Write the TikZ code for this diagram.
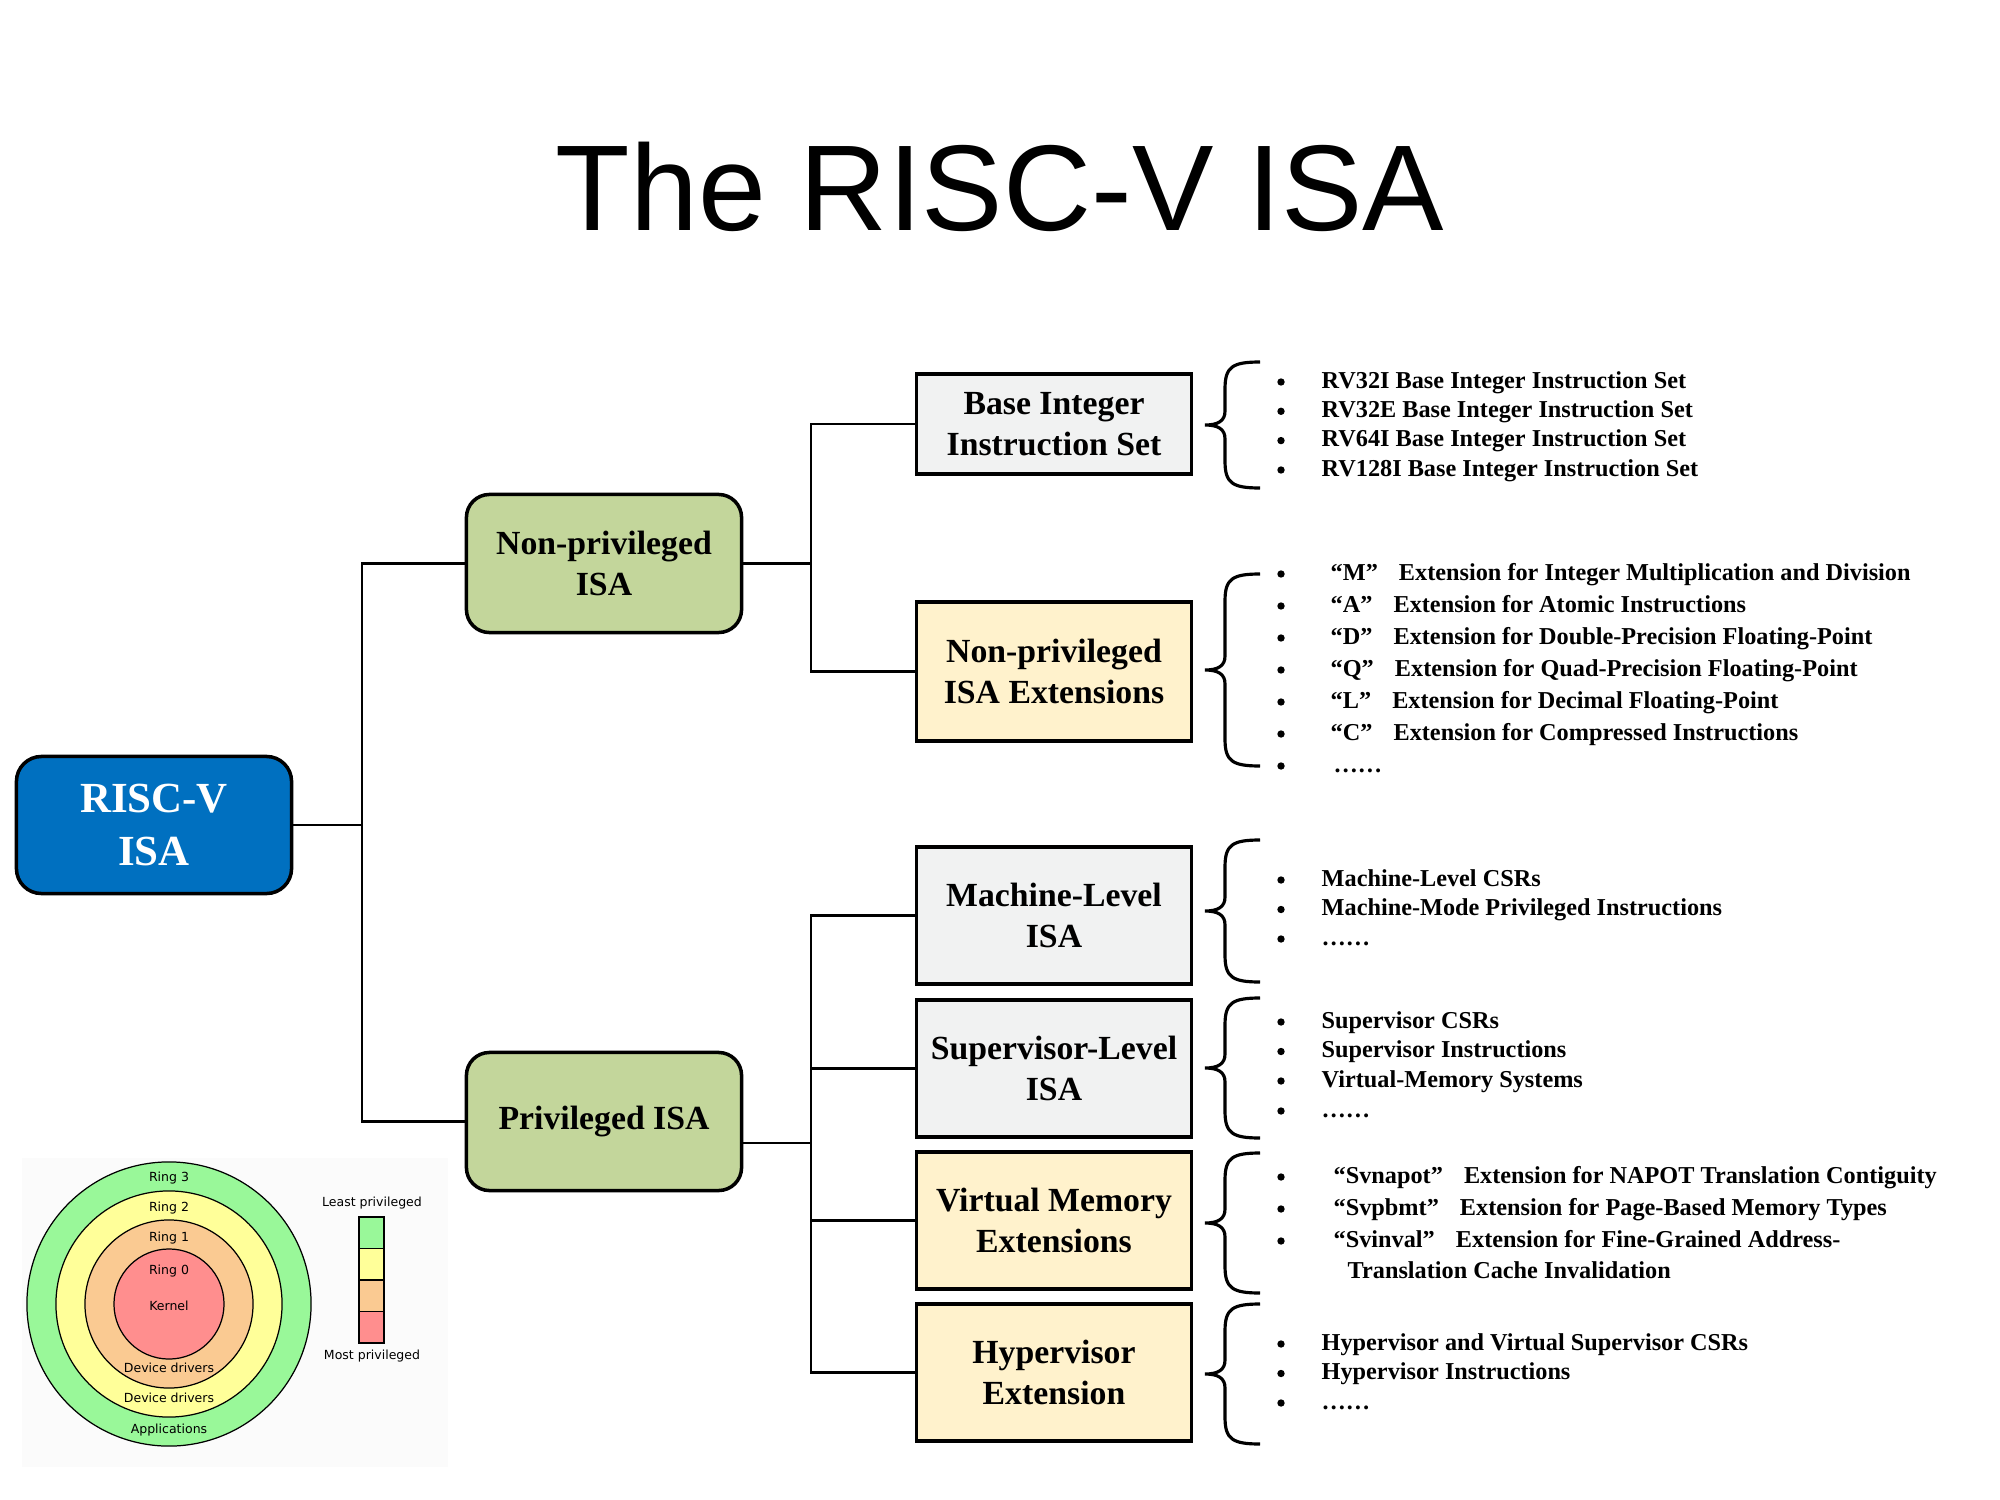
\documentclass[tikz,border=0pt]{standalone}
\usepackage{fontspec}
\setmainfont{Liberation Serif}
\newfontfamily\titlefont{Liberation Sans}
\newfontfamily\ringfont{DejaVu Sans}
\usetikzlibrary{calc}

\definecolor{riscblue}{HTML}{0070C0}
\definecolor{isagreen}{HTML}{C3D69B}
\definecolor{basegray}{HTML}{F1F2F2}
\definecolor{extyellow}{HTML}{FFF2CC}
\definecolor{ringgreen}{HTML}{99F899}
\definecolor{ringyellow}{HTML}{FFFF99}
\definecolor{ringorange}{HTML}{FACA92}
\definecolor{ringred}{HTML}{FF8E8E}
\definecolor{panelgray}{HTML}{FBFBFB}

\tikzset{
  rootbox/.style={draw=black, line width=1pt, rounded corners=0.25cm, fill=riscblue,
    text=white, align=center, minimum width=2.75cm, minimum height=1.37cm,
    font=\bfseries\fontsize{12.2}{15.1}\selectfont},
  groupbox/.style={draw=black, line width=1pt, rounded corners=0.23cm, fill=isagreen,
    align=center, minimum width=2.75cm, minimum height=1.38cm,
    font=\bfseries\fontsize{9.6}{11.6}\selectfont},
  partbox/.style={draw=black, line width=1pt, align=center, minimum width=2.75cm,
    minimum height=1.37cm, font=\bfseries\fontsize{9.6}{11.6}\selectfont},
  link/.style={draw=black, line width=0.8pt},
  bracestyle/.style={draw=black, line width=0.9pt},
  itemtext/.style={anchor=base west, inner sep=0pt, font=\bfseries\fontsize{6.9}{8}\selectfont},
  ringline/.style={draw=black, line width=0.35pt},
  ringlabel/.style={anchor=base, inner sep=0pt, font=\ringfont\fontsize{3.56}{4}\selectfont},
}

% one list line: #1 node name, #2 bullet height, #3 text start, #4 text
\newcommand{\isaitem}[4]{%
  \fill (1281,#2) circle (1.05pt);
  \node[itemtext] (#1) at (#3,#2+6) {#4};
}
% left curly brace between heights #1 (top) and #2 (bottom)
\newcommand{\isabrace}[2]{%
  \pgfmathsetmacro\bmid{(#1+#2)/2}
  \draw[bracestyle] (1260,#1) .. controls (1232,#1) and (1225,#1+5) .. (1225,#1+27)
    -- (1225,\bmid-14) .. controls (1225,\bmid-4) and (1218,\bmid) .. (1205,\bmid)
    .. controls (1218,\bmid) and (1225,\bmid+4) .. (1225,\bmid+14)
    -- (1225,#2-27) .. controls (1225,#2-5) and (1232,#2) .. (1260,#2);
}
\newcommand{\qsp}{\hspace{6pt}}

\begin{document}
\begin{tikzpicture}[x=0.01cm, y=-0.01cm]
\useasboundingbox (0,0) rectangle (2000,1500);

% heading
\node[anchor=base, inner sep=0pt, font=\titlefont\fontsize{34.7}{40}\selectfont] (title) at (1000,231) {The RISC-V ISA};

% tree boxes
\node[rootbox] (risc) at (154,825) {RISC-V\\ISA};
\node[groupbox] (np) at (604,563.5) {Non-privileged\\ISA};
\node[groupbox] (pv) at (604,1121.5) {Privileged ISA};

\node[partbox, fill=basegray, minimum height=1.0cm] (bi) at (1054,424) {Base Integer\\Instruction Set};
\node[partbox, fill=extyellow, minimum height=1.39cm] (ne) at (1054,671.5) {Non-privileged\\ISA Extensions};
\node[partbox, fill=basegray] (ml) at (1054,915.5) {Machine-Level\\ISA};
\node[partbox, fill=basegray] (sl) at (1054,1068.5) {Supervisor-Level\\ISA};
\node[partbox, fill=extyellow] (vm) at (1054,1220.5) {Virtual Memory\\Extensions};
\node[partbox, fill=extyellow] (hv) at (1054,1372.5) {Hypervisor\\Extension};

% connectors
\coordinate (j1) at (362,825);
\coordinate (j2) at (811,563.5);
\coordinate (j3) at (811,1143);
\coordinate (pvout) at ($(pv.east)+(0,21.5)$);
\draw[link] (risc.east) -- (j1);
\draw[link] (j1) |- (np.west);
\draw[link] (j1) |- (pv.west);
\draw[link] (np.east) -- (j2);
\draw[link] (j2) |- (bi.west);
\draw[link] (j2) |- (ne.west);
\draw[link] (pvout) -- (j3);
\draw[link] (j3) |- (ml.west);
\draw[link] (j3) |- (hv.west);
\draw[link] (j3 |- sl.west) -- (sl.west);
\draw[link] (j3 |- vm.west) -- (vm.west);

% braces
\isabrace{362}{488}
\isabrace{574}{766}
\isabrace{840}{982}
\isabrace{998}{1138}
\isabrace{1153}{1293}
\isabrace{1304}{1444}

% base integer sets
\isaitem{bi1}{382}{1321}{RV32I Base Integer Instruction Set}
\isaitem{bi2}{411.3}{1321}{RV32E Base Integer Instruction Set}
\isaitem{bi3}{440.6}{1321}{RV64I Base Integer Instruction Set}
\isaitem{bi4}{470}{1321}{RV128I Base Integer Instruction Set}

% non-privileged extensions
\isaitem{ne1}{574}{1330}{“M”\qsp Extension for Integer Multiplication and Division}
\isaitem{ne2}{606}{1330}{“A”\qsp Extension for Atomic Instructions}
\isaitem{ne3}{638}{1330}{“D”\qsp Extension for Double-Precision Floating-Point}
\isaitem{ne4}{670}{1330}{“Q”\qsp Extension for Quad-Precision Floating-Point}
\isaitem{ne5}{702}{1330}{“L”\qsp Extension for Decimal Floating-Point}
\isaitem{ne6}{734}{1330}{“C”\qsp Extension for Compressed Instructions}
\isaitem{ne7}{766}{1333}{……}

% machine level
\isaitem{ml1}{880}{1321}{Machine-Level CSRs}
\isaitem{ml2}{909.5}{1321}{Machine-Mode Privileged Instructions}
\isaitem{ml3}{939}{1321}{……}

% supervisor level
\isaitem{sl1}{1022}{1321}{Supervisor CSRs}
\isaitem{sl2}{1051.5}{1321}{Supervisor Instructions}
\isaitem{sl3}{1081}{1321}{Virtual-Memory Systems}
\isaitem{sl4}{1111}{1321}{……}

% virtual memory extensions
\isaitem{vm1}{1177}{1333}{“Svnapot”\qsp Extension for NAPOT Translation Contiguity}
\isaitem{vm2}{1209}{1333}{“Svpbmt”\qsp Extension for Page-Based Memory Types}
\isaitem{vm3}{1241}{1333}{“Svinval”\qsp Extension for Fine-Grained Address-}
\node[itemtext] (vm4) at (1347,1278) {Translation Cache Invalidation};

% hypervisor
\isaitem{hv1}{1344}{1321}{Hypervisor and Virtual Supervisor CSRs}
\isaitem{hv2}{1373.5}{1321}{Hypervisor Instructions}
\isaitem{hv3}{1403}{1321}{……}

% protection rings
\fill[panelgray] (22,1158) rectangle (448,1467);
\filldraw[ringline, fill=ringgreen] (169,1304) circle (1.42cm);
\filldraw[ringline, fill=ringyellow] (169,1304) circle (1.13cm);
\filldraw[ringline, fill=ringorange] (169,1304) circle (0.84cm);
\filldraw[ringline, fill=ringred] (169,1304) circle (0.55cm);
\node[ringlabel] (r3) at (169,1181) {Ring 3};
\node[ringlabel] (r2) at (169,1211) {Ring 2};
\node[ringlabel] (r1) at (169,1241) {Ring 1};
\node[ringlabel] (r0) at (169,1274) {Ring 0};
\node[ringlabel] (kern) at (169,1310) {Kernel};
\node[ringlabel] (dd1) at (169,1372) {Device drivers};
\node[ringlabel] (dd2) at (169,1402) {Device drivers};
\node[ringlabel] (apps) at (169,1433) {Applications};

% privilege scale
\filldraw[ringline, fill=ringgreen] (359,1217) rectangle (384,1248.5);
\filldraw[ringline, fill=ringyellow] (359,1248.5) rectangle (384,1280);
\filldraw[ringline, fill=ringorange] (359,1280) rectangle (384,1311.5);
\filldraw[ringline, fill=ringred] (359,1311.5) rectangle (384,1343);
\node[ringlabel] (least) at (372,1206.5) {Least privileged};
\node[ringlabel] (most) at (372,1359) {Most privileged};
\end{tikzpicture}
\end{document}
